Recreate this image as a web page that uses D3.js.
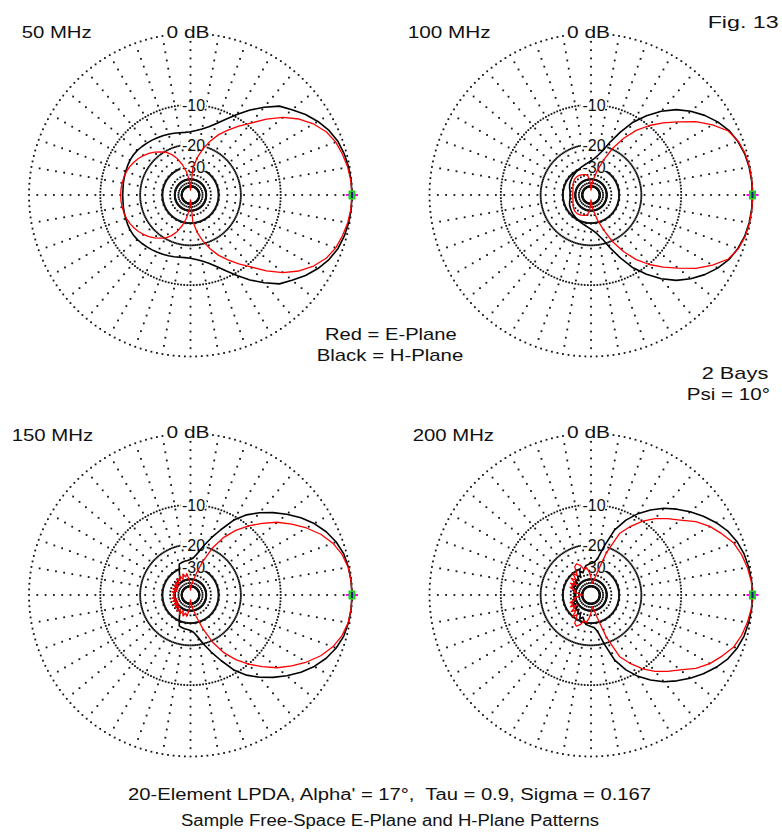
<!DOCTYPE html>
<html><head><meta charset="utf-8">
<script src="https://cdn.jsdelivr.net/npm/d3@7"></script>
<style>body{margin:0;background:#fff}svg{display:block}text{font-family:"Liberation Sans",Arial,sans-serif;fill:#111;white-space:pre}</style>
</head><body><svg id="c" width="782" height="838"></svg>
<script>
// ---------------- data ----------------
const freqLabels = ["50 MHz","100 MHz","150 MHz","200 MHz"];
const angleDeg = [0,5,10,15,20,25,30,35,40,45,50,55,60,65,70,75,80,85,90,95,100,105,110,115,120,125,130,135,140,145,150,155,160,165,170,175,180];
// E-plane (red), dB, 0..180 deg (pattern symmetric about 0-180 axis)
const ePlane50  = [0,-0.05,-0.2,-0.45,-0.75,-1.3,-2.2,-3.4,-5.0,-7.0,-9.3,-11.2,-13.2,-15.2,-17.8,-21,-25,-31,-60,-40,-33,-28,-24.5,-22,-20.3,-19.2,-18.2,-17.3,-16.6,-16.0,-15.5,-15.1,-14.8,-14.6,-14.5,-14.4,-14.4];
const ePlane100 = [0,0,-0.05,-0.2,-0.5,-1.1,-2.4,-4.0,-6.0,-7.9,-9.9,-12.3,-15.5,-19.5,-25,-31,-38,-45,-60,-40,-36,-35,-34.5,-34,-33.6,-33.4,-33.4,-33.6,-34,-34.6,-35.3,-36,-36.6,-37,-37.3,-37.4,-37.4];
const ePlane150 = [0,-0.03,-0.15,-0.5,-1.1,-2.0,-3.2,-4.6,-6.1,-8.0,-10.0,-12.3,-15.2,-19.5,-26,-34,-42,-48,-60,-40,-34.5,-37,-34,-38.5,-34,-38,-35,-40,-36,-41,-36.5,-42,-37,-42,-37,-40,-38];
const ePlane200 = [0,-0.07,-0.3,-0.6,-1.05,-1.9,-2.8,-4.0,-5.6,-6.9,-8.3,-10.0,-12.2,-14.8,-22,-34,-42,-45,-38,-33,-30,-31,-28,-26.5,-27.5,-33,-30,-35,-31.5,-38,-33,-36,-34,-40,-38,-45,-50];
// H-plane (black), dB, 0..180 deg
const hPlane50  = [0,-0.02,-0.1,-0.25,-0.5,-0.95,-1.6,-2.4,-3.4,-4.3,-5.9,-7.6,-9.5,-11.3,-12.9,-14.2,-15.1,-15.7,-16.1,-16.2,-16.1,-15.9,-15.7,-15.5,-15.3,-15.1,-14.9,-14.7,-14.5,-14.4,-14.4,-14.5,-14.6,-14.7,-14.8,-14.9,-14.9];
const hPlane100 = [0,-0.02,-0.1,-0.25,-0.55,-1.0,-1.7,-2.6,-3.7,-5.0,-6.7,-8.8,-11.2,-14.5,-18,-21.5,-23.8,-25.5,-26.6,-27.5,-28.2,-28.8,-29.3,-29.8,-30.2,-30.6,-31.0,-31.4,-31.8,-32.2,-32.6,-33,-33.6,-34.2,-34.8,-35,-35];
const hPlane150 = [0,-0.03,-0.12,-0.3,-0.7,-1.3,-2.1,-3.1,-4.3,-5.6,-7.0,-8.6,-10.7,-13.8,-16.8,-19.8,-22.8,-25,-26,-26.4,-26.6,-26.9,-27.3,-31,-34.5,-37,-35.5,-38,-36.5,-39,-37,-40,-38,-40,-38.5,-40,-40];
const hPlane200 = [0,-0.03,-0.15,-0.32,-0.65,-1.15,-1.9,-2.8,-3.8,-4.9,-6.1,-7.6,-9.3,-11.5,-14.5,-20,-25.5,-27.5,-28,-28.5,-29,-31,-33,-31,-35,-33,-37,-34,-38,-35,-38,-36,-39,-37,-40,-38,-40];
const ePlanes = [ePlane50, ePlane100, ePlane150, ePlane200];
const hPlanes = [hPlane50, hPlane100, hPlane150, hPlane200];
const ringLevels = [0,-10,-20,-30,-40,-50];
const ringLabelLevels = [0,-10,-20,-30];
const ringLabels = ["0 dB","-10","-20","-30"];
const legendLines = ["Red = E-Plane","Black = H-Plane"];
const noteLines = ["2 Bays","Psi = 10°"];
const figLabel = "Fig. 13";
const titleLines = ["20-Element LPDA, Alpha' = 17°,  Tau = 0.9, Sigma = 0.167","Sample Free-Space E-Plane and H-Plane Patterns"];

// ---------------- layout ----------------
const svg = d3.select("#c");
const R = 161.5;
const centers = [[190.5,195],[591,195],[190.5,595],[591,595]];
const freqPos = [[21.7,37.7,70],[407.7,37.7,83],[11.7,441,81.6],[412.7,441,81.3]];
// ARRL log scale: radius shrinks by 0.89 for every 2 dB
const expo = (-Math.log(0.89)/2) * 10 / Math.LN10;
const rScale = d3.scalePow().exponent(expo).domain([0,1]).range([0,R]);
const rOf = dB => rScale(Math.pow(10, dB/10));
const toRad = d => d*Math.PI/180;

function fullPattern(vals){
  const pts = angleDeg.map((a,i)=>[a, vals[i]]);
  for(let i=angleDeg.length-2;i>0;i--) pts.push([360-angleDeg[i], vals[i]]);
  return pts;
}
const radial = d3.lineRadial()
  .angle(d=>toRad(90-d[0]))
  .radius(d=>rOf(d[1]))
  .curve(d3.curveLinearClosed);

function label(x,y,size,len,txt,anchor){
  const t = svg.append("text").attr("x",x).attr("y",y).attr("font-size",size).text(txt);
  if(len) t.attr("textLength",len).attr("lengthAdjust","spacingAndGlyphs");
  if(anchor) t.attr("text-anchor",anchor);
  return t;
}

centers.forEach((c,pi)=>{
  const g = svg.append("g").attr("transform",`translate(${c[0]},${c[1]})`);
  const dots = [];
  ringLevels.forEach(L=>{
    const r = rOf(L);
    d3.range(0,360,2).forEach(a=>dots.push([r*Math.cos(toRad(a)), -r*Math.sin(toRad(a))]));
  });
  d3.range(0,360,10).forEach(a=>{
    for(let r=R-8.3; r>12; r-=8.3) dots.push([r*Math.cos(toRad(a)), -r*Math.sin(toRad(a))]);
  });
  g.append("g").selectAll("rect").data(dots).join("rect")
    .attr("x",d=>d[0]-0.9).attr("y",d=>d[1]-0.9).attr("width",1.8).attr("height",1.8).attr("fill","#111");

  // ring labels with white backgrounds
  ringLabelLevels.forEach((L,i)=>{
    const r = rOf(L);
    const isTop = i===0;
    const t = g.append("text")
      .attr("x", isTop ? -2.5 : 3)
      .attr("y", isTop ? -157 : -r+6.5)
      .attr("text-anchor","middle")
      .attr("font-size",16)
      .text(ringLabels[i]);
    if(isTop) t.attr("textLength",43).attr("lengthAdjust","spacingAndGlyphs");
    const bb = t.node().getBBox();
    g.insert("rect", () => t.node())
      .attr("x",bb.x-1.5).attr("y",-r-4).attr("width",bb.width+3).attr("height",8).attr("fill","#fff");
  });

  g.append("path").attr("d", radial(fullPattern(hPlanes[pi])))
    .attr("fill","none").attr("stroke","#000").attr("stroke-width",1.6).attr("stroke-linejoin","round");
  g.append("path").attr("d", radial(fullPattern(ePlanes[pi])))
    .attr("fill","none").attr("stroke","#ff0000").attr("stroke-width",1.3).attr("stroke-linejoin","round");

  // cursor marker at 0 deg, 0 dB
  const mx = rOf(0);
  g.append("rect").attr("x",mx-6).attr("y",-1).attr("width",12).attr("height",2).attr("fill","#ff00ff");
  g.append("rect").attr("x",mx-3.5).attr("y",-4.5).attr("width",7).attr("height",9).attr("fill","#22cc22");
  g.append("rect").attr("x",mx-1).attr("y",-3).attr("width",2).attr("height",6).attr("fill","#1a1a80");

  const fp = freqPos[pi];
  label(fp[0],fp[1],16,fp[2],freqLabels[pi]);
});

// legend
label(325,340,17,131.7,legendLines[0]);
label(316.7,361,17,146.6,legendLines[1]);
// notes
label(701.7,379,17,66.6,noteLines[0]);
label(686.7,400,17,83.3,noteLines[1]);
label(707.7,28,17,71,figLabel);
// title
label(128,800,16,523,titleLines[0]);
label(181,826,16,418,titleLines[1]);
</script></body></html>
